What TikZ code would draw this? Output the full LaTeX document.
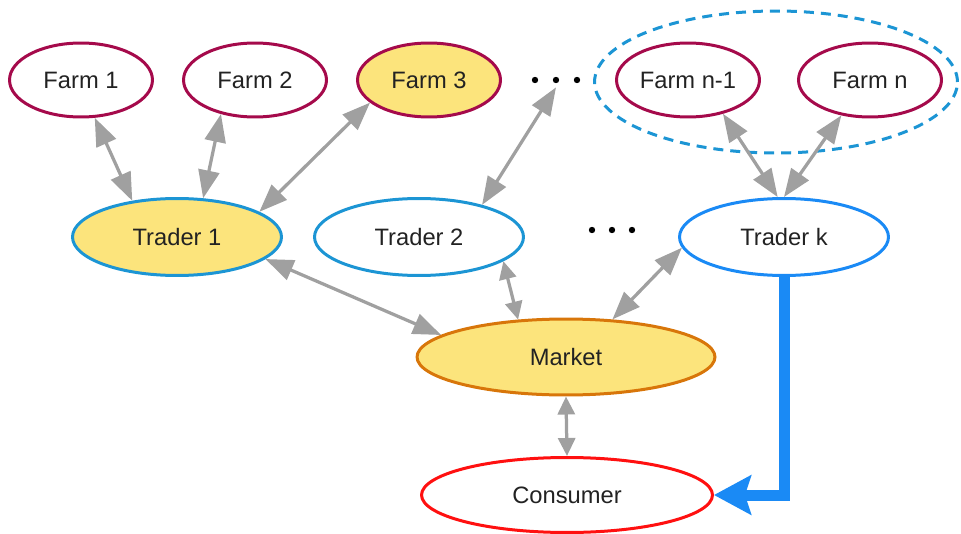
\documentclass[tikz,border=0pt]{standalone}
\usepackage{fontspec}
\setmainfont{Liberation Sans}
\usetikzlibrary{shapes.geometric,arrows.meta}
\definecolor{farmred}{RGB}{165,10,75}
\definecolor{tradeblue}{RGB}{28,149,212}
\definecolor{tradekblue}{RGB}{26,138,245}
\definecolor{fillyellow}{RGB}{252,228,124}
\definecolor{marketorange}{RGB}{216,118,10}
\definecolor{consred}{RGB}{255,16,16}
\definecolor{arrowgray}{RGB}{160,160,160}
\definecolor{textgray}{RGB}{34,34,34}
\tikzset{
  every node/.style={font=\fontsize{13.5}{16}\selectfont, text=textgray},
  farm/.style={ellipse, draw=farmred, line width=0.06cm, inner sep=0pt,
    minimum width=2.86cm, minimum height=1.48cm},
  trader/.style={ellipse, draw=tradeblue, line width=0.06cm, inner sep=0pt,
    minimum width=4.18cm, minimum height=1.54cm},
  link/.style={draw=arrowgray, line width=0.065cm,
    {Triangle[length=0.56cm,width=0.42cm]}-{Triangle[length=0.56cm,width=0.42cm]}},
  shortlink/.style={draw=arrowgray, line width=0.065cm,
    {Triangle[length=0.36cm,width=0.34cm]}-{Triangle[length=0.36cm,width=0.34cm]}},
}
\begin{document}
\begin{tikzpicture}[x=0.02cm,y=-0.02cm]
	\useasboundingbox (0,0) rectangle (961,534);
	% farms
	\node [farm] (f1) at (81,80) {Farm 1};
	\node [farm] (f2) at (255,80) {Farm 2};
	\node [farm, fill=fillyellow] (f3) at (429,80) {Farm 3};
	\node [farm] (fn1) at (688,80) {Farm n-1};
	\node [farm] (fn) at (870,80) {Farm n};
	\node [inner sep=0pt, minimum width=1.2cm, minimum height=0.28cm] (fdots) at (556,80) {};
	\foreach \dx in {-21,0,21}
		\fill [black] ([xshift=\dx*0.02cm]fdots.center) circle (3.2);
	\node [ellipse, draw=tradeblue, line width=0.06cm, dash pattern=on 0.2cm off 0.14cm,
		minimum width=7.26cm, minimum height=2.84cm] (group) at (776,82) {};
	% traders
	\node [trader, fill=fillyellow] (t1) at (177,237) {Trader 1};
	\node [trader] (t2) at (419,237) {Trader 2};
	\node [trader, draw=tradekblue] (tk) at (784,237) {Trader k};
	\node [inner sep=0pt, minimum width=1.2cm, minimum height=0.28cm] (tdots) at (612,230) {};
	\foreach \dx in {-20,0,20}
		\fill [black] ([xshift=\dx*0.02cm]tdots.center) circle (3.2);
	% market and consumer
	\node [ellipse, draw=marketorange, fill=fillyellow, line width=0.06cm, inner sep=0pt,
		minimum width=5.96cm, minimum height=1.52cm] (mkt) at (566,357) {Market};
	\node [ellipse, draw=consred, line width=0.06cm, inner sep=0pt,
		minimum width=5.82cm, minimum height=1.5cm] (cons) at (567,495) {Consumer};
	% links
	\draw [link] (f1.290) -- (t1.141);
	\draw [link] (f2.225) -- (t1.56);
	\draw [link] (f3.201) -- (t1.17);
	\draw [link] (fdots.south) -- (t2.27);
	\draw [link] (fn1.316) -- (tk.99);
	\draw [link] (fn.231) -- (tk.90);
	\draw [link] (t1.346) -- (mkt.170);
	\draw [shortlink] (t2.344) -- (mkt.142);
	\draw [link] (tk.186) -- (mkt.39);
	\draw [shortlink] (mkt.south) -- (cons.north);
	\draw [draw=tradekblue, line width=0.22cm,
		-{Stealth[length=0.74cm,width=0.78cm,inset=0.12cm]}] (tk.south) |- (cons.east);
\end{tikzpicture}
\end{document}
